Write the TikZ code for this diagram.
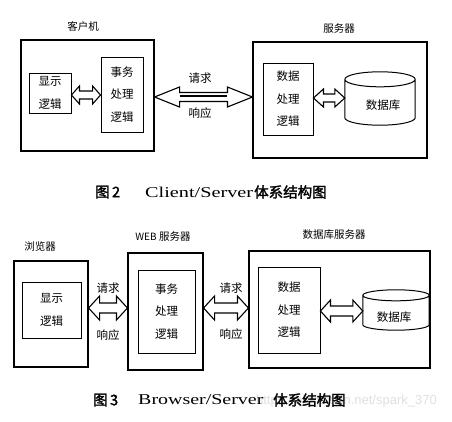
\documentclass[tikz,border=0pt]{standalone}
\usepackage{fontspec}
\usepackage{graphicx}
\setmainfont{Liberation Serif}
\newfontfamily\cjk{Noto Sans CJK SC}
\newfontfamily\cjkb[FakeBold=2]{Noto Sans CJK SC}
\newfontfamily\wmfont{Liberation Sans}
\usetikzlibrary{calc}
\tikzset{
  outerbox/.style={draw, line width=1.1pt, inner sep=0pt, minimum width=#1},
  innerbox/.style={draw, line width=0.9pt, inner sep=0pt, align=center, font=\cjk\fontsize{11.5}{22.5}\selectfont},
  title/.style={font=\cjk\fontsize{10.5}{12}\selectfont, inner sep=0pt},
  lbl/.style={font=\cjk\fontsize{11.5}{12}\selectfont, inner sep=0pt},
  arrowline/.style={draw, line width=1.1pt, fill=white, line join=miter},
  cylline/.style={line width=1pt},
  captext/.style={font=\cjkb\fontsize{14.5}{16}\selectfont, inner sep=0pt, anchor=west},
  latcap/.style={font=\fontsize{15}{16}\selectfont, inner sep=0pt, anchor=west},
}
% #1 left point, #2 right point, #3 head half, #4 shaft half, #5 head length
\newcommand\hollowarrow[5]{%
  \draw[arrowline] let \p1=#1, \p2=#2 in
   (\x1,\y1) -- (\x1+#5pt,\y1+#3pt) -- (\x1+#5pt,\y1+#4pt) -- (\x2-#5pt,\y1+#4pt)
   -- (\x2-#5pt,\y1+#3pt) -- (\x2,\y1) -- (\x2-#5pt,\y1-#3pt) -- (\x2-#5pt,\y1-#4pt)
   -- (\x1+#5pt,\y1-#4pt) -- (\x1+#5pt,\y1-#3pt) -- cycle;}
% #1 node name, #2 ellipse y radius
\newcommand\drawcyl[2]{%
  \draw[cylline] let \p1=(#1.north west), \p2=(#1.south east) in
   (\x1,\y1-#2pt) -- (\x1,\y2+#2pt)
   arc[start angle=180, end angle=360, x radius={(\x2-\x1)/2}, y radius=#2pt]
   -- (\x2,\y1-#2pt)
   (\x1/2+\x2/2,\y1-#2pt) ellipse [x radius={(\x2-\x1)/2}, y radius=#2pt];}
\begin{document}
\begin{tikzpicture}[x=1pt,y=-1pt]
\useasboundingbox[fill=white] (0,0) rectangle (452,421);

% ---------------- Figure 2 ----------------
\node[title] (tclient) at (83,26) {客户机};
\node[title] (tserver) at (339,29) {服务器};
\node[outerbox=133, minimum height=111] (client) at (87.5,95.5) {};
\node[outerbox=174, minimum height=116] (server) at (340,100) {};
\node[innerbox, minimum width=42, minimum height=40] (disp1) at (50,93) {显示\\逻辑};
\node[innerbox, minimum width=42, minimum height=75] (biz1) at (122,94.5) {事务\\处理\\逻辑};
\node[innerbox, minimum width=50, minimum height=72] (data1) at (288,99) {数据\\处理\\逻辑};
\node[minimum width=70, minimum height=53, inner sep=0pt] (cyl1) at (380,98.5) {};
\drawcyl{cyl1}{7.5}
\node[lbl] (db1) at (383,105) {数据库};

\hollowarrow{(client.east |- 0,97)}{(server.west |- 0,97)}{10}{4.5}{25}
\draw[line width=1.8pt] let \p1=(client.east |- 0,96), \p2=(server.west |- 0,96) in (\x1+25pt,\y1) -- (\x2-25pt,\y1);
\node[lbl] (req1) at (200,78) {请求};
\node[lbl] (resp1) at (200,113) {响应};
\hollowarrow{(disp1.east |- 0,95)}{(biz1.west |- 0,95)}{9}{4}{8}
\hollowarrow{(data1.east |- 0,98)}{(cyl1.west |- 0,98)}{9}{4}{10}

\node[captext] (fig2a) at (95,192) {图\,2};
\node[latcap] (fig2b) at (145,192) {\scalebox{1.35}[1]{Client/Server}};
\node[captext] (fig2c) at (254,192) {体系结构图};

% ---------------- Figure 3 ----------------
\node[title] (tbrowser) at (40,247) {浏览器};
\node[title] (tweb) at (163,237) {{\fontsize{10}{12}\selectfont WEB} 服务器};
\node[title] (tdbs) at (334,235) {数据库服务器};
\node[outerbox=74, minimum height=106] (browser) at (51,314) {};
\node[outerbox=75, minimum height=117] (web) at (165.5,311.5) {};
\node[outerbox=181, minimum height=117] (dbs) at (339.5,309.5) {};
\node[innerbox, minimum width=59, minimum height=56] (disp2) at (51.5,310) {显示\\逻辑};
\node[innerbox, minimum width=57, minimum height=83] (biz2) at (166.5,311.5) {事务\\处理\\逻辑};
\node[innerbox, minimum width=62, minimum height=86] (data2) at (289,310) {数据\\处理\\逻辑};
\node[minimum width=66, minimum height=40, inner sep=0pt] (cyl2) at (396,310) {};
\drawcyl{cyl2}{5.5}
\node[lbl] (db2) at (394,317) {数据库};

\hollowarrow{(browser.east |- 0,308)}{(web.west |- 0,308)}{12}{5}{11}
\hollowarrow{(web.east |- 0,308)}{(dbs.west |- 0,308)}{12}{5}{11}
\hollowarrow{(data2.east |- 0,311)}{(cyl2.west |- 0,311)}{11}{5}{10}
\node[lbl] (req2) at (108,288) {请求};
\node[lbl] (resp2) at (108,335) {响应};
\node[lbl] (req3) at (231,288) {请求};
\node[lbl] (resp3) at (231,334) {响应};

\node[text=black!12, font=\wmfont\fontsize{13}{14}\selectfont, inner sep=0pt, anchor=east] (wm) at (437,401) {https://blog.csdn.net/spark\_370};
\node[captext] (fig3a) at (93,400) {图\,3};
\node[latcap] (fig3b) at (138,400) {\scalebox{1.33}[1]{Browser/Server}};
\node[captext] (fig3c) at (273,400) {体系结构图};
\end{tikzpicture}
\end{document}
